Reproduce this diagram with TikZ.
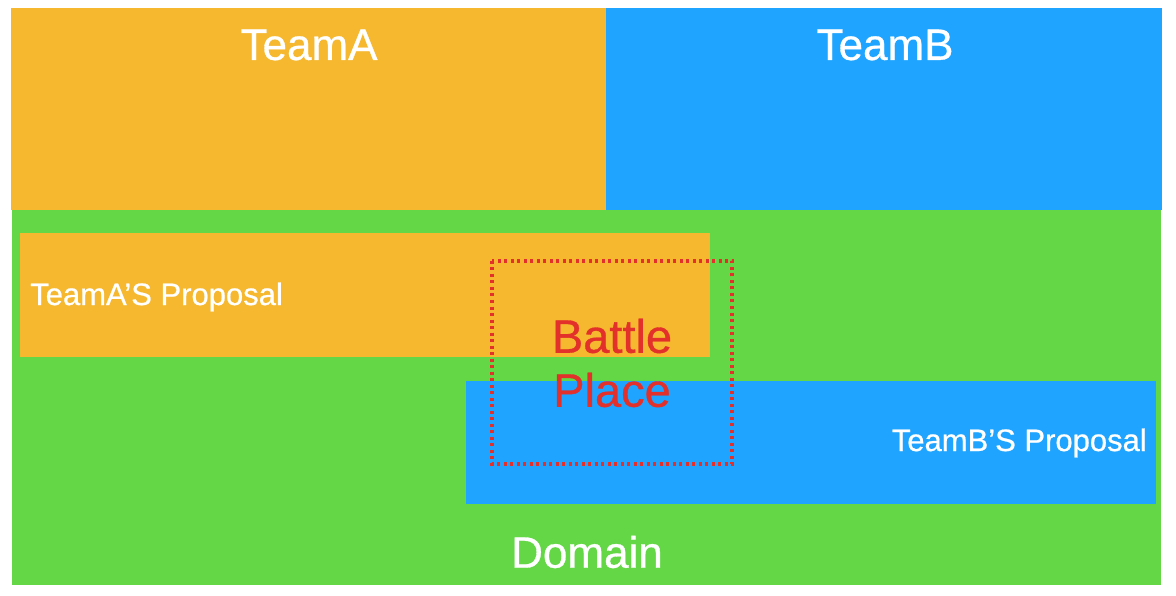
\documentclass[tikz,border=0pt]{standalone}
\usepackage{fontspec}
\setmainfont{Liberation Sans}
\newfontfamily\medfont{Liberation Sans}[FakeBold=0.7]
\definecolor{cOrange}{HTML}{F5B82E}
\definecolor{cBlue}{HTML}{1FA5FF}
\definecolor{cGreen}{HTML}{63D745}
\definecolor{cRed}{HTML}{E3302A}
\begin{document}
\begin{tikzpicture}[x=1pt,y=-1pt,
  bigtxt/.style={text=white,font=\medfont\fontsize{44}{50}\selectfont,inner sep=0pt},
  smalltxt/.style={text=white,font=\medfont\fontsize{31}{36}\selectfont,inner sep=0pt},
  battle/.style={text=cRed,font=\medfont\fontsize{47}{54}\selectfont,inner sep=0pt,align=center},
  dotbox/.style={draw=cRed,line width=3.5pt,dash pattern=on 3pt off 3.5pt}
]
\useasboundingbox[fill=white] (0,0) rectangle (1176,596);
\fill[cOrange] (11,8) rectangle (606,210);
\fill[cBlue] (606,8) rectangle (1162,210);
\fill[cGreen] (12,210) rectangle (1161,585);
\fill[cOrange] (20,233) rectangle (710,357);
\fill[cBlue] (466,381) rectangle (1156,504);
\node[bigtxt] (teamA) at (309,45) {TeamA};
\node[bigtxt] (teamB) at (885,45) {TeamB};
\node[bigtxt] (domain) at (587,552) {Domain};
\node[smalltxt,anchor=west] (propA) at (30,297) {TeamA’S Proposal};
\node[smalltxt,anchor=east] (propB) at (1147,443) {TeamB’S Proposal};
\draw[dotbox] (492,261) rectangle (732,464);
\node[battle] (bp) at (612,363) {Battle\\Place};
\end{tikzpicture}
\end{document}
